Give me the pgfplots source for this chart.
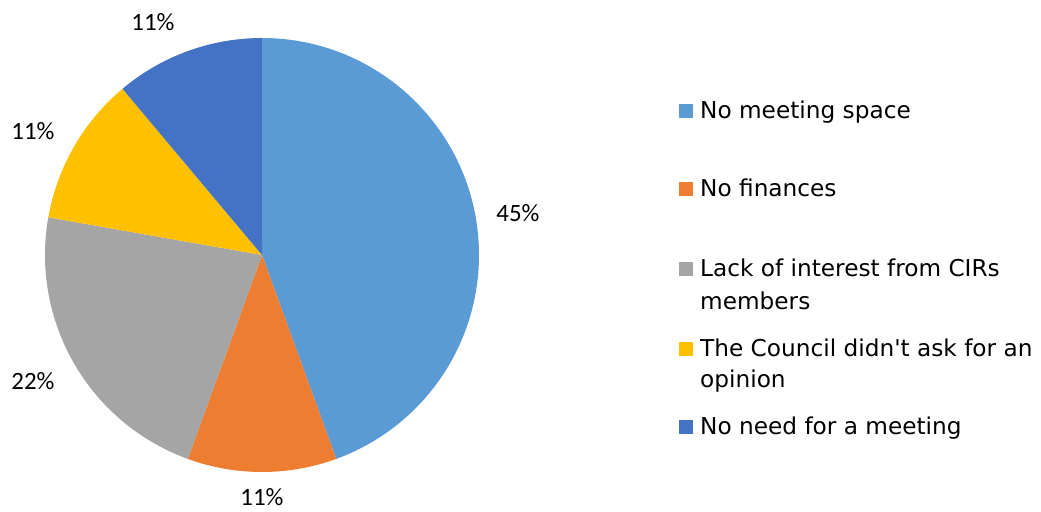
\documentclass[border=0pt]{standalone}
\usepackage{pgfplots}
\pgfplotsset{compat=1.18}
\usepackage{pgfplotstable}
\usepackage{fontspec}
\setmainfont{DejaVu Sans}
\newfontfamily\calib{Carlito}
\definecolor{cA}{HTML}{5B9BD5}
\definecolor{cB}{HTML}{ED7D31}
\definecolor{cC}{HTML}{A5A5A5}
\definecolor{cD}{HTML}{FFC000}
\definecolor{cE}{HTML}{4472C4}
% value = respondents, pct = displayed label, lx/ly = label position (px from top-left)
\pgfplotstableread{
value pct lx ly
4 45 518 213
1 11 262 497
2 22 33 381
1 11 33 131
1 11 153 22
}\piedata
\begin{document}
\begin{tikzpicture}
\begin{axis}[width=1041bp,height=512bp,scale only axis,
  xmin=0,xmax=1041,ymin=0,ymax=512,hide axis,clip=false]
\addplot[draw=none,forget plot] coordinates {(0,0) (1041,512)};
\pgfplotsextra{
  \xdef\tot{0}
  \foreach \i in {0,...,4}{
    \pgfplotstablegetelem{\i}{value}\of\piedata
    \pgfmathsetmacro\t{\tot+\pgfplotsretval}\xdef\tot{\t}
  }
  \xdef\cur{90}
  \foreach \i/\col in {0/cA,1/cB,2/cC,3/cD,4/cE}{
    \pgfplotstablegetelem{\i}{value}\of\piedata \let\v\pgfplotsretval
    \pgfplotstablegetelem{\i}{pct}\of\piedata \let\p\pgfplotsretval
    \pgfplotstablegetelem{\i}{lx}\of\piedata \let\lx\pgfplotsretval
    \pgfplotstablegetelem{\i}{ly}\of\piedata \let\ly\pgfplotsretval
    \pgfmathsetmacro\e{\cur-\v/\tot*360}
    \pgfmathsetmacro\lyy{512-\ly}
    \fill[\col] (axis cs:262,257) -- ++(\cur:217bp) arc[start angle=\cur,end angle=\e,radius=217bp] -- cycle;
    \node[font=\calib\fontsize{25}{30}\selectfont,inner sep=0pt] at (axis cs:\lx,\lyy) {\p\%};
    \xdef\cur{\e}
  }
}
% legend
\pgfplotsextra{
  \foreach \b/\col/\txt in {119/cA/No meeting space,197/cB/No finances,277/cC/Lack of interest from CIRs,357/cD/The Council didn\textquotesingle t ask for an,435/cE/No need for a meeting}{
    \pgfmathsetmacro\yb{512-\b+1}
    \pgfmathsetmacro\yt{512-\b+15}
    \fill[\col] (axis cs:679,\yb) rectangle (axis cs:693,\yt);
    \pgfmathsetmacro\yy{512-\b}
    \node[anchor=base west,inner sep=0pt,font=\fontsize{23.3}{28}\selectfont] at (axis cs:700,\yy) {\txt};
  }
  \node[anchor=base west,inner sep=0pt,font=\fontsize{23.3}{28}\selectfont] at (axis cs:700,202) {members};
  \node[anchor=base west,inner sep=0pt,font=\fontsize{23.3}{28}\selectfont] at (axis cs:700,124) {opinion};
}
\end{axis}
\pgfresetboundingbox
\path (0,0) rectangle (1041bp,512bp);
\end{tikzpicture}
\end{document}
